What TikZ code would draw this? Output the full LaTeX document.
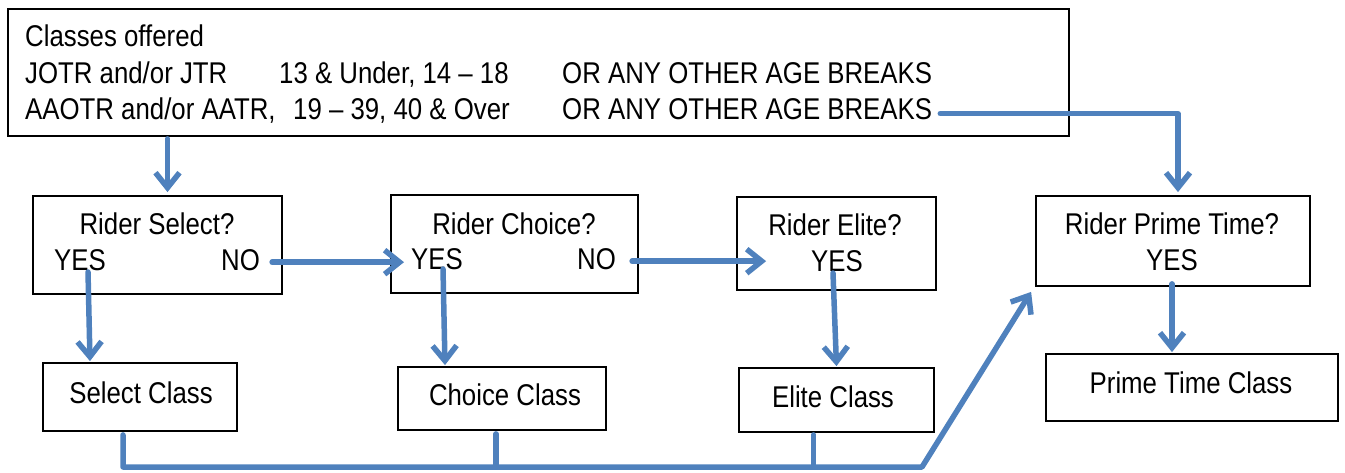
\documentclass[tikz,border=0pt]{standalone}
\usepackage{fontspec}
\setmainfont{Liberation Sans}[FakeStretch=0.86]
\usetikzlibrary{arrows.meta,calc}
\definecolor{flowblue}{RGB}{79,129,189}
\begin{document}
\begin{tikzpicture}[x=1pt,y=-1pt,
  box/.style={draw=black, line width=1.8pt, inner sep=0pt},
  lbl/.style={inner sep=0pt, anchor=base, font=\fontsize{30}{36}\selectfont},
  lblw/.style={lbl, anchor=base west},
  conn/.style={draw=flowblue, line width=5.5pt, line cap=round, line join=round},
  arr/.style={conn, -{Straight Barb[length=15pt,width=24pt]}}
]
\useasboundingbox (0,0) rectangle (1345,473);

% boxes
\node[box, minimum width=1061pt, minimum height=127pt] (top) at (538.5,72.5) {};
\node[box, minimum width=249pt, minimum height=98pt] (sel) at (157.5,245) {};
\node[box, minimum width=247pt, minimum height=98pt] (cho) at (514.5,244) {};
\node[box, minimum width=199pt, minimum height=93pt] (eli) at (836.5,243.5) {};
\node[box, minimum width=274pt, minimum height=90pt] (pt) at (1173,241) {};
\node[box, minimum width=194pt, minimum height=68pt] (selc) at (140,397) {};
\node[box, minimum width=208pt, minimum height=63pt] (choc) at (502,398.5) {};
\node[box, minimum width=195pt, minimum height=64pt] (elic) at (836.5,400) {};
\node[box, minimum width=292pt, minimum height=67pt] (ptc) at (1192,387.5) {};

% texts of the top box
\node[lblw] (l1) at (25,47) {Classes offered};
\node[lblw] (l2a) at (25,84) {JOTR and/or JTR};
\node[lblw] (l2b) at (279,84) {13 \& Under, 14 – 18};
\node[lblw] (l2c) at (562,84) {OR ANY OTHER AGE BREAKS};
\node[lblw] (l3a) at (25,120) {AAOTR and/or AATR,};
\node[lblw] (l3b) at (293,120) {19 – 39, 40 \& Over};
\node[lblw] (l3c) at (562,120) {OR ANY OTHER AGE BREAKS};

% decision texts
\node[lbl] (selq) at (157,235) {Rider Select?};
\node[lblw] (selyes) at (54,271) {YES};
\node[lblw] (selno) at (221,271) {NO};
\node[lbl] (choq) at (514,235) {Rider Choice?};
\node[lblw] (choyes) at (411,270) {YES};
\node[lblw] (chono) at (577,270) {NO};
\node[lbl] (eliq) at (835,236) {Rider Elite?};
\node[lbl] (eliyes) at (837,272) {YES};
\node[lbl] (ptq) at (1172,235) {Rider Prime Time?};
\node[lbl] (ptyes) at (1172,271) {YES};

% class texts
\node[lbl] (selct) at (141,403) {Select Class};
\node[lbl] (choct) at (505,405) {Choice Class};
\node[lbl] (elict) at (833,407) {Elite Class};
\node[lbl] (ptct) at (1191,393) {Prime Time Class};

% connectors
\draw[arr] ($(sel.north |- top.south)+(10,2)$) -- ($(sel.north)+(10,-3)$);
\draw[arr] ($(l3c.east)+(8,4)$) -| ($(pt.north)+(5,-3)$);
\draw[arr] ($(selno.east)+(12,1.5)$) -- ($(choyes.west)+(-7,2.5)$);
\draw[arr] ($(chono.east)+(16,1.5)$) -- ($(eli.west |- chono.east)+(30,1.5)$);
\draw[arr] ($(selyes.base)+(8,1)$) -- ($(selc.north)+(-50,-1)$);
\draw[arr] ($(choyes.base)+(6,-1)$) -- ($(choc.north)+(-57,-1)$);
\draw[arr] ($(eliyes.base)+(-4,1)$) -- ($(elic.north)+(0,-1)$);
\draw[arr] ($(pt.south)+(-1,-3)$) -- ($(pt.south |- ptc.north)+(-1,-1)$);

\coordinate (bend) at (922,467);
\draw[arr] ($(selc.south)+(-17,3)$) |- (bend) -- ($(pt.south west)+(-4,5)$);
\draw[conn] ($(choc.south)+(-6,3)$) -- ($(choc.south |- bend)+(-6,0)$);
\draw[conn] ($(elic.south)+(-23,2)$) -- ($(elic.south |- bend)+(-23,0)$);
\end{tikzpicture}
\end{document}
